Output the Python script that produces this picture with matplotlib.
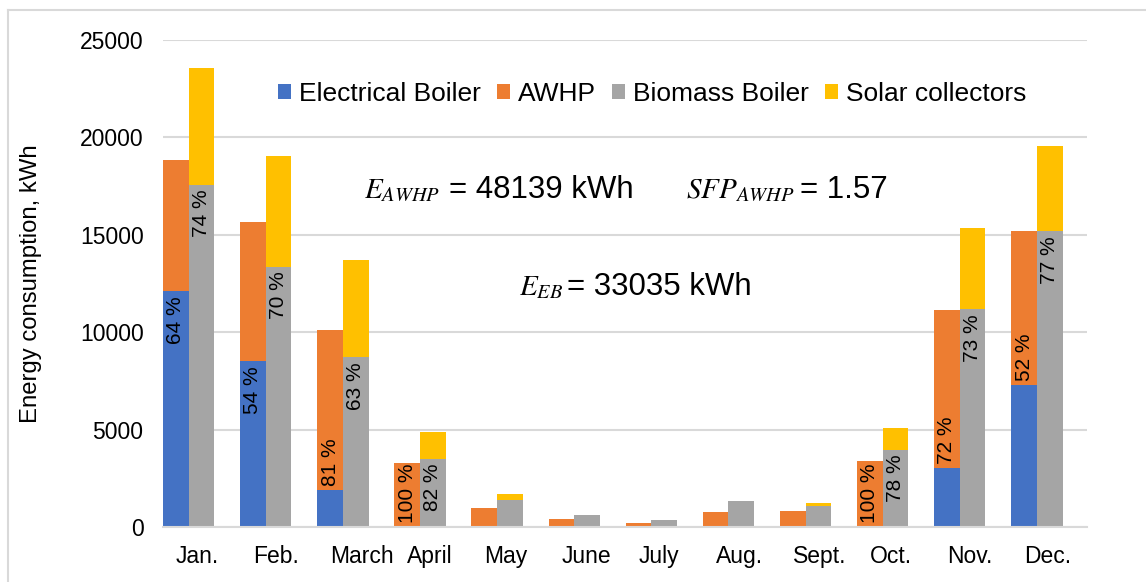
import numpy as np
import matplotlib.pyplot as plt
from matplotlib.lines import Line2D

plt.rcParams['font.family'] = ['Liberation Sans', 'DejaVu Sans']
plt.rcParams['mathtext.fontset'] = 'stix'

months = ['Jan.', 'Feb.', 'March', 'April', 'May', 'June',
          'July', 'Aug.', 'Sept.', 'Oct.', 'Nov.', 'Dec.']

# left bar: electrical boiler + AWHP, right bar: biomass boiler + solar collectors (kWh)
elec_boiler = [12100, 8500, 1890, 0, 0, 0, 0, 0, 0, 0, 3050, 7290]
awhp = [6760, 7170, 8230, 3280, 980, 410, 220, 790, 820, 3380, 8100, 7910]
biomass = [17580, 13360, 8730, 3510, 1390, 600, 360, 1340, 1060, 3960, 11180, 15190]
solar = [5980, 5690, 4990, 1390, 310, 0, 0, 0, 170, 1130, 4150, 4370]

eb_pct = ['64 %', '54 %', '', '', '', '', '', '', '', '', '', '']
awhp_pct = ['', '', '81 %', '100 %', '', '', '', '', '', '100 %', '72 %', '52 %']
bio_pct = ['74 %', '70 %', '63 %', '82 %', '', '', '', '', '', '78 %', '73 %', '77 %']

c_blue = '#4472C4'
c_orange = '#ED7D31'
c_gray = '#A5A5A5'
c_yellow = '#FFC000'
c_grid = '#D9D9D9'

ind = np.arange(len(months))
width = 0.333

W, H = 1146, 582
fig = plt.figure(figsize=(W / 100, H / 100), dpi=100)
ax = fig.add_axes([163 / W, 1 - 527 / H, (1087 - 163) / W, (527 - 40) / H])

eb = np.array(elec_boiler)
bio = np.array(biomass)
ax.bar(ind - width / 2, eb, width, color=c_blue, label='Electrical Boiler', zorder=3)
ax.bar(ind - width / 2, awhp, width, bottom=eb, color=c_orange, label='AWHP', zorder=3)
ax.bar(ind + width / 2, bio, width, color=c_gray, label='Biomass Boiler', zorder=3)
ax.bar(ind + width / 2, solar, width, bottom=bio, color=c_yellow, label='Solar collectors', zorder=3)

# percentage labels
for i in ind:
    if eb_pct[i]:
        ax.annotate(eb_pct[i], (i - width / 2, eb[i]), xytext=(0, -5), textcoords='offset pixels',
                    rotation=90, ha='center', va='top', fontsize=15, zorder=4)
    if awhp_pct[i]:
        ax.annotate(awhp_pct[i], (i - width / 2, eb[i]), xytext=(0, 4), textcoords='offset pixels',
                    rotation=90, ha='center', va='bottom', fontsize=15, zorder=4)
    if bio_pct[i]:
        ax.annotate(bio_pct[i], (i + width / 2, bio[i]), xytext=(0, -5), textcoords='offset pixels',
                    rotation=90, ha='center', va='top', fontsize=15, zorder=4)

ax.set_xlim(-width, 11.65)
ax.set_ylim(0, 25000)
ax.set_yticks(np.arange(0, 25001, 5000))
ax.yaxis.grid(True, color=c_grid, linewidth=1.5, zorder=0)
ax.set_axisbelow(True)
for s in ['top', 'right', 'left']:
    ax.spines[s].set_visible(False)
ax.spines['bottom'].set_color(c_grid)
ax.spines['bottom'].set_linewidth(1.5)
ax.spines['bottom'].set_zorder(5)

ax.set_xticks(ind - 0.163)
ax.set_xticklabels(months, ha='left')
ax.tick_params(axis='both', length=0, labelsize=16.5)
ax.tick_params(axis='x', pad=13)
ax.tick_params(axis='y', pad=14)
ax.set_ylabel('Energy consumption, kWh', fontsize=17.2)
ax.yaxis.set_label_coords(-0.131, 0.5)

fig.legend(loc='center', bbox_to_anchor=(652 / W, 1 - 94 / H), ncol=4, frameon=False,
           fontsize=19, handlelength=0.5, handleheight=0.5, handletextpad=0.3,
           columnspacing=0.6)

# annotations: math symbol part and value part
fig.text(364 / W, 1 - 197.5 / H, r'$E_{AWHP}$', fontsize=21, va='baseline')
fig.text(449 / W, 1 - 197.5 / H, '= 48139 kWh', fontsize=22.5, va='baseline')
fig.text(686 / W, 1 - 197.5 / H, r'$SFP_{AWHP}$', fontsize=21, va='baseline')
fig.text(800 / W, 1 - 197.5 / H, '= 1.57', fontsize=22.5, va='baseline')
fig.text(519 / W, 1 - 295 / H, r'$E_{EB}$', fontsize=21, va='baseline')
fig.text(567 / W, 1 - 295 / H, '= 33035 kWh', fontsize=22.5, va='baseline')

# outer chart frame (cropped at right and bottom)
fig.add_artist(Line2D([8 / W, 8 / W], [0, 1 - 10 / H], color=c_grid, lw=1.5,
                      transform=fig.transFigure))
fig.add_artist(Line2D([8 / W, 1], [1 - 10 / H, 1 - 10 / H], color=c_grid, lw=1.5,
                      transform=fig.transFigure))

fig.savefig('out.png', dpi=100)
